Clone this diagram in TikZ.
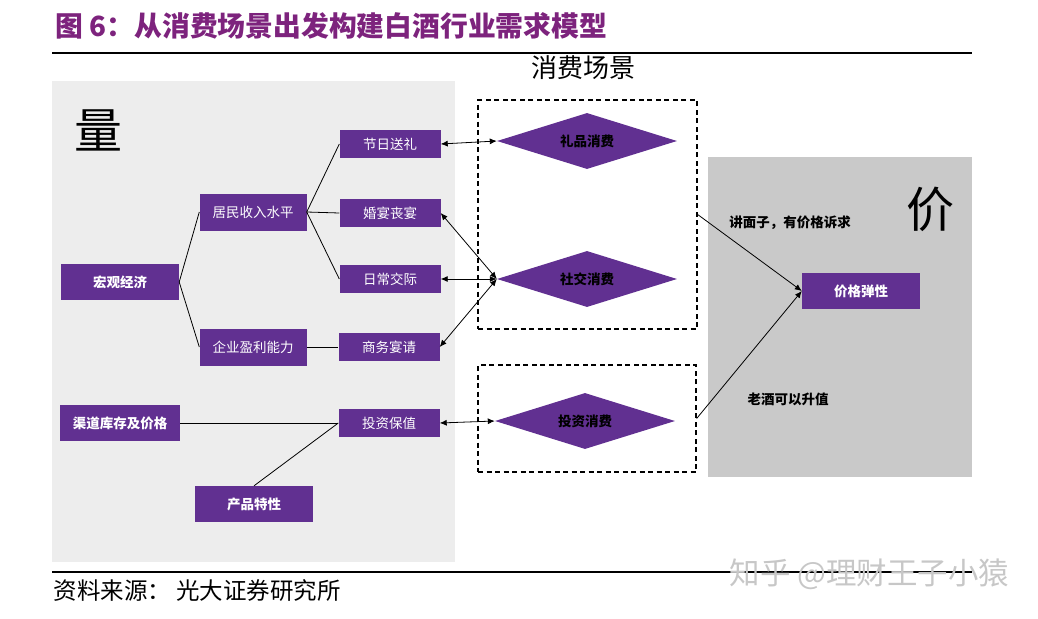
\documentclass[tikz,border=0pt]{standalone}
\usepackage{fontspec}
\setmainfont{Noto Sans CJK SC}
\usetikzlibrary{shapes.geometric,arrows.meta}

\definecolor{boxpurple}{RGB}{97,48,145}
\definecolor{titlepurple}{RGB}{125,35,125}
\definecolor{leftgray}{RGB}{237,237,237}
\definecolor{rightgray}{RGB}{201,201,201}

\begin{document}
\begin{tikzpicture}[
        x=1pt, y=-1pt,
        >={Latex[length=7pt,width=6pt]},
        every node/.style={font=\fontsize{13.5}{16}\selectfont},
        box/.style={fill=boxpurple, text=white, inner sep=0pt,
            minimum width=101pt, minimum height=28pt},
        bigbox/.style={box, minimum width=107pt, minimum height=37pt},
        keybox/.style={box, minimum width=118pt, minimum height=36pt,
            font=\fontsize{13.5}{16}\selectfont\bfseries},
        scene/.style={diamond, fill=boxpurple, inner sep=0pt, aspect=3.2,
            minimum width=180pt, minimum height=56pt,
            font=\fontsize{13.5}{16}\selectfont\bfseries},
        dashbox/.style={draw, line width=1.3pt, dash pattern=on 5pt off 3.5pt, inner sep=0pt},
        link/.style={line width=0.8pt}
    ]

        \useasboundingbox (0,0) rectangle (1038,618);

        % Hintergruende
        \fill[leftgray] (52,81) rectangle (455,562);
        \fill[rightgray] (708,157) rectangle (972,477);

        \node[anchor=west, text=titlepurple, font=\fontsize{27.8}{30}\selectfont\bfseries]
            (title) at (52,26) {图 6：从消费场景出发构建白酒行业需求模型};
        \draw[line width=2.5pt] (52,53) -- (972,53);
        \node[font=\fontsize{26}{28}\selectfont] (scenes) at (583,68) {消费场景};

        \node[font=\fontsize{48}{50}\selectfont] (volume) at (98,130) {量};
        \node[font=\fontsize{48}{50}\selectfont] (price) at (930,209) {价};

        % Boxen links
        \node[keybox] (macro) at (120,282) {宏观经济};
        \node[bigbox] (income) at (253,212) {居民收入水平};
        \node[bigbox] (profit) at (253,347) {企业盈利能力};
        \node[box] (gift) at (390,144) {节日送礼};
        \node[box] (wedding) at (390,213) {婚宴丧宴};
        \node[box] (daily) at (390,279) {日常交际};
        \node[box] (business) at (389,347) {商务宴请};
        \node[keybox, minimum width=120pt] (channel) at (120,423) {渠道库存及价格};
        \node[box] (invest) at (389,423) {投资保值};
        \node[keybox] (product) at (254,504) {产品特性};

        % Szenarien
        \node[dashbox, minimum width=219pt, minimum height=229pt] (sceneA) at (587.5,214.5) {};
        \node[dashbox, minimum width=218pt, minimum height=107pt] (sceneB) at (587,418.5) {};
        \node[scene] (giftuse) at (587,141) {礼品消费};
        \node[scene] (socialuse) at (587,279) {社交消费};
        \node[scene] (investuse) at (585,421) {投资消费};

        \node[keybox] (elastic) at (861,291) {价格弹性};

        \draw[link] (macro.east) -- (income.west);
        \draw[link] (macro.east) -- (profit.west);
        \draw[link] (income.east) -- (gift.west);
        \draw[link] (income.east) -- (wedding.west);
        \draw[link] (income.east) -- (daily.west);
        \draw[link] (profit.east) -- (business.west);
        \draw[link] (channel.east) -- (invest.west);
        \draw[link] (product.north) -- (invest.west);

        \draw[link, <->] (gift.east) -- (giftuse.west);
        \draw[link, <->] (wedding.east) -- (socialuse.west);
        \draw[link, <->] (daily.east) -- (socialuse.west);
        \draw[link, <->] (business.east) -- (socialuse.west);
        \draw[link, <->] (invest.east) -- (investuse.west);

        \draw[link, ->] (sceneA.east) -- (elastic.west);
        \draw[link, ->] (sceneB.east) -- (elastic.west);
        \node[font=\fontsize{13.5}{16}\selectfont\bfseries] (face) at (790,223) {讲面子，有价格诉求};
        \node[font=\fontsize{13.5}{16}\selectfont\bfseries] (aging) at (788,399) {老酒可以升值};

        % Quelle
        \draw[line width=2.5pt] (52,572) -- (972,572);
        \node[anchor=west, font=\fontsize{23.5}{26}\selectfont] (source) at (50,591) {资料来源： 光大证券研究所};
        \node[anchor=west, text=black!22, font=\fontsize{30.5}{33}\selectfont] (mark) at (726,574) {知乎 @理财王子小猿};

    \end{tikzpicture}
\end{document}
